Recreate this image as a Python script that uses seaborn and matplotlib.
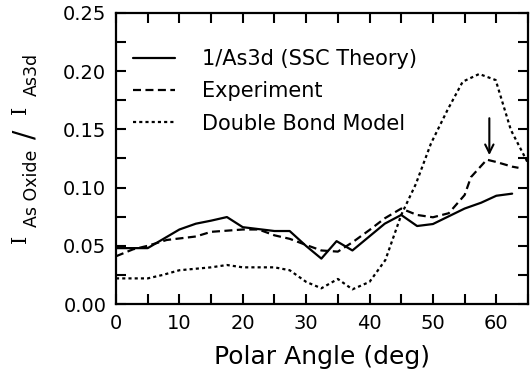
import matplotlib
matplotlib.use("Agg")
import matplotlib.pyplot as plt
import seaborn as sns
from matplotlib.ticker import MultipleLocator, FormatStrFormatter

# Data
theory_angle = [0, 5, 10, 12.6, 15, 17.5, 20, 25, 27.4, 30, 32.4, 34.8, 37.3, 42.4, 45, 47.5, 50, 55, 57.6, 60, 62.5]
theory_ratio = [0.048, 0.048, 0.064, 0.069, 0.0716, 0.0747, 0.066, 0.0627, 0.0627, 0.0498, 0.039, 0.054, 0.046, 0.069, 0.0765, 0.067, 0.0687, 0.082, 0.087, 0.093, 0.0948]

exp_angle = [0, 2.7, 5, 8, 12.6, 15, 17.5, 20, 22.5, 25, 27.4, 30, 32.4, 35, 37.3, 40, 42.4, 45, 47.5, 50, 52.5, 55, 56, 58.5, 60, 62.5, 63.5]
exp_ratio = [0.041, 0.047, 0.050, 0.055, 0.058, 0.062, 0.063, 0.064, 0.064, 0.059, 0.056, 0.0507, 0.046, 0.045, 0.053, 0.0636, 0.0736, 0.082, 0.0765, 0.0745, 0.078, 0.0936, 0.109, 0.124, 0.122, 0.118, 0.117]

dbm_angle = [0, 5, 7.4, 10, 15, 17.5, 20, 25, 27.4, 30, 32.4, 35, 37.3, 40, 42.5, 45, 47.3, 49.7, 52.3, 54.7, 57.3, 59.9, 62.3, 65]
dbm_ratio = [0.022, 0.022, 0.025, 0.029, 0.0315, 0.0335, 0.0315, 0.0315, 0.029, 0.019, 0.0135, 0.0215, 0.0126, 0.019, 0.0378, 0.0765, 0.103, 0.138, 0.1667, 0.191, 0.1976, 0.1924, 0.1495, 0.121]

labels = ["1/As3d (SSC Theory)", "Experiment", "Double Bond Model"]
xlabel = "Polar Angle (deg)"
# y label pieces: (text, size, family, baseline x px, start y px from top)
ylabel_parts = [("I", 15, "DejaVu Serif", 26, 243),
                ("As Oxide", 12.5, "DejaVu Sans", 37, 227),
                ("/", 20, "DejaVu Sans", 33, 139),
                ("I", 15, "DejaVu Serif", 26, 114),
                ("As3d", 12.5, "DejaVu Sans", 37, 96)]

sns.set_theme(style="ticks")
plt.rcParams['font.family'] = ['DejaVu Sans']
plt.rcParams['text.color'] = 'black'
plt.rcParams['axes.labelcolor'] = 'black'

W, H = 532, 384
fig = plt.figure(figsize=(W / 100, H / 100), dpi=100)
ax = fig.add_axes([116 / W, 1 - 304 / H, 412 / W, 291 / H])

lw = 1.6
sns.lineplot(x=theory_angle, y=theory_ratio, ax=ax, color='black', lw=lw, label=labels[0])
sns.lineplot(x=exp_angle, y=exp_ratio, ax=ax, color='black', lw=lw, linestyle=(0, (3.6, 2.0)), label=labels[1])
sns.lineplot(x=dbm_angle, y=dbm_ratio, ax=ax, color='black', lw=lw, linestyle=(0, (1.4, 1.4)), label=labels[2])

ax.annotate("", xy=(58.9, 0.1255), xytext=(58.9, 0.162),
            arrowprops=dict(arrowstyle="->", color='black', lw=1.5, mutation_scale=15))

ax.set_xlim(0, 65)
ax.set_ylim(0, 0.25)
ax.xaxis.set_major_locator(MultipleLocator(10))
ax.xaxis.set_minor_locator(MultipleLocator(5))
ax.yaxis.set_major_locator(MultipleLocator(0.05))
ax.yaxis.set_minor_locator(MultipleLocator(0.025))
ax.yaxis.set_major_formatter(FormatStrFormatter('%.2f'))
ax.tick_params(which='both', direction='in', top=True, right=True, length=7, width=1.5,
               labelsize=14, pad=7, colors='black')
for s in ax.spines.values():
    s.set_linewidth(1.6)
    s.set_color('black')

ax.set_xlabel(xlabel, fontsize=18, labelpad=9)
ax.set_ylabel("")

for txt, size, fam, bx, by in ylabel_parts:
    fig.text(bx / W, 1 - by / H, txt, fontsize=size, family=fam, rotation=90,
             rotation_mode='anchor', ha='left', va='baseline', color='black')

leg = ax.legend(loc='upper left', frameon=False, fontsize=15, handlelength=2.0,
                borderaxespad=0.0, borderpad=0.0, bbox_to_anchor=(0.041, 0.875),
                labelspacing=0.58, handletextpad=1.3)
for t in leg.get_texts():
    t.set_color('black')

fig.savefig("out.png", dpi=100)
